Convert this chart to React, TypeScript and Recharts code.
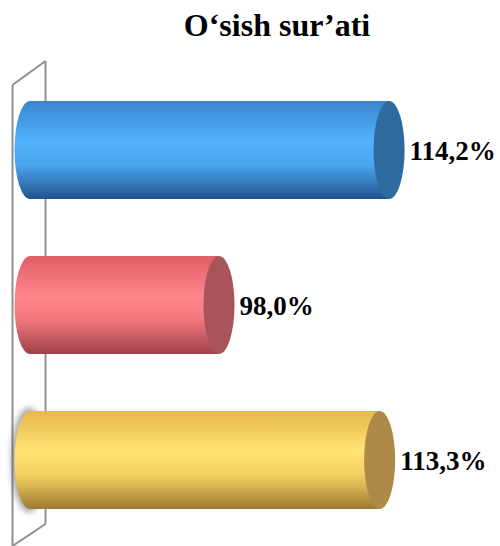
import React from "react";
import { BarChart, Bar, XAxis, YAxis, LabelList } from "recharts";

const categories = ["A", "B", "C"];
const growthValues = [114.2, 98.0, 113.3];
const chartTitle = "O\u2018sish sur\u2019ati";

const bodyStops = [
  ["#3a84cf", "#52b2fb", "#4aa6ee", "#22528a"],
  ["#df5e68", "#ff848b", "#f27880", "#9e4048"],
  ["#e6b64e", "#ffe372", "#f6d062", "#9c7a32"],
];
const capColors = ["#2f6a9f", "#a9545b", "#ad8a45"];

const data = categories.map((c, i) => ({ name: c, value: growthValues[i] }));

const CAP_RX = 15.5;
const SERIF = '"Liberation Serif", "Times New Roman", serif';

const CylinderShape = (props: any) => {
  const { x, y, width, height, index } = props;
  const cy = y + height / 2;
  const ry = height / 2;
  const gid = `cylGrad${index}`;
  const stops = bodyStops[index];
  return (
    <g>
      <defs>
        <linearGradient id={gid} x1="0" y1="0" x2="0" y2="1">
          <stop offset="0%" stopColor={stops[0]} />
          <stop offset="40%" stopColor={stops[1]} />
          <stop offset="65%" stopColor={stops[2]} />
          <stop offset="100%" stopColor={stops[3]} />
        </linearGradient>
        <filter id={`blur${index}`} x="-50%" y="-50%" width="200%" height="200%">
          <feGaussianBlur stdDeviation="3" />
        </filter>
      </defs>
      {index === 2 && (
        <ellipse cx={x - 1} cy={cy} rx={CAP_RX + 2} ry={ry + 3} fill="#555" opacity={0.55} filter={`url(#blur${index})`} />
      )}
      <ellipse cx={x} cy={cy} rx={CAP_RX} ry={ry} fill={`url(#${gid})`} />
      <rect x={x} y={y} width={width} height={height} fill={`url(#${gid})`} />
      <ellipse cx={x + width} cy={cy} rx={CAP_RX} ry={ry} fill={capColors[index]} />
    </g>
  );
};

const ValueLabel = (props: any) => {
  const { x, y, width, height, value } = props;
  const txt = Number(value).toFixed(1).replace(".", ",") + "%";
  const cy = y + height / 2;
  return (
    <foreignObject x={x + width + CAP_RX + 5} y={cy - 14} width={110} height={32}>
      <div
        style={{
          fontFamily: SERIF,
          fontWeight: 700,
          fontSize: 27,
          lineHeight: "30px",
          color: "#000",
          whiteSpace: "nowrap",
        }}
      >
        {txt}
      </div>
    </foreignObject>
  );
};

export default function App() {
  return (
    <div style={{ position: "absolute", left: 0, top: 0, width: 500, height: 546, background: "#fff", overflow: "hidden" }}>
      <svg width={500} height={546} style={{ position: "absolute", left: 0, top: 0 }}>
        <g stroke="#8f8f8f" strokeWidth={2} fill="none">
          <line x1={12.5} y1={85} x2={12.5} y2={546} />
          <line x1={45.5} y1={61} x2={45.5} y2={524} />
          <line x1={12.5} y1={85} x2={45.5} y2={61} />
          <line x1={45.5} y1={524} x2={12.5} y2={546} />
        </g>
      </svg>
      <div
        style={{
          position: "absolute",
          left: 0,
          top: 9,
          width: 554,
          textAlign: "center",
          fontFamily: SERIF,
          fontWeight: 700,
          fontSize: 32,
          lineHeight: "32px",
          color: "#000",
          whiteSpace: "nowrap",
        }}
      >
        {chartTitle}
      </div>
      <div style={{ position: "absolute", left: 0, top: 0 }}>
        <BarChart
          width={500}
          height={546}
          data={data}
          layout="vertical"
          margin={{ top: 72, right: 50, bottom: 9, left: 30 }}
          barSize={98}
        >
          <XAxis type="number" domain={[80, 120]} hide />
          <YAxis type="category" dataKey="name" hide />
          <Bar dataKey="value" shape={CylinderShape} isAnimationActive={false}>
            <LabelList dataKey="value" content={ValueLabel} />
          </Bar>
        </BarChart>
      </div>
    </div>
  );
}
